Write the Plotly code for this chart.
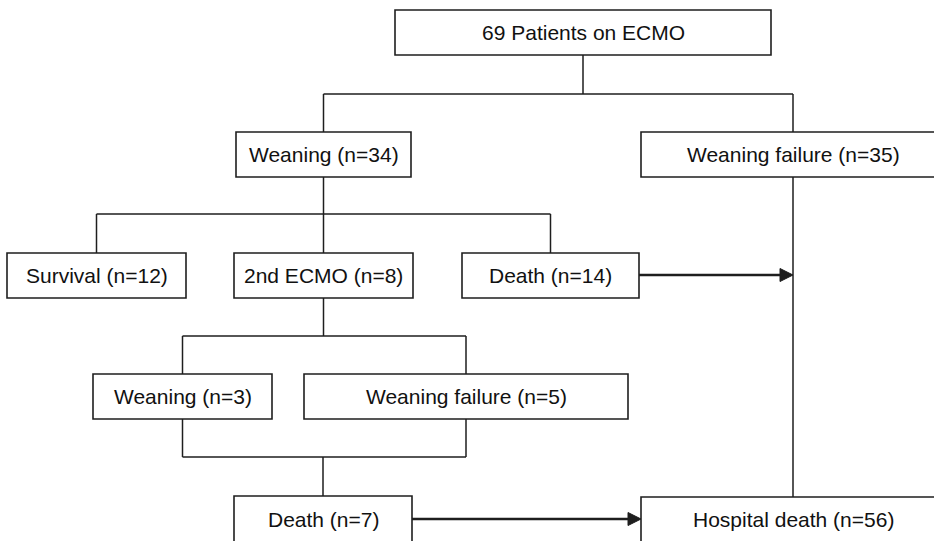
import plotly.graph_objects as go

# ---- diagram content ----
labels = [
    "69 Patients on ECMO",
    "Weaning (n=34)",
    "Weaning failure (n=35)",
    "Survival (n=12)",
    "2nd ECMO (n=8)",
    "Death (n=14)",
    "Weaning (n=3)",
    "Weaning failure (n=5)",
    "Death (n=7)",
    "Hospital death (n=56)",
]
keys = ["top", "wean", "wfail", "surv", "ecmo2", "death14", "wean3", "wfail5", "death7", "hosp"]

# box geometry (pixel space: x0, y0, x1, y1)
geom = {
    "top": (395, 10, 771, 55),
    "wean": (236, 132, 411, 177),
    "wfail": (641, 132, 945, 177),
    "surv": (7, 253, 186, 298),
    "ecmo2": (234, 253, 413, 298),
    "death14": (462, 253, 639, 298),
    "wean3": (93, 374, 272, 419),
    "wfail5": (304, 374, 628, 419),
    "death7": (234, 496, 412, 542),
    "hosp": (641, 497, 945, 542),
}

W, H = 934, 541
LC = "#1e1e1e"
fig = go.Figure()

def cx(k):
    g = geom[k]
    return (g[0] + g[2]) / 2

def cy(k):
    g = geom[k]
    return (g[1] + g[3]) / 2

shapes = []
def line(x0, y0, x1, y1, w=1.5):
    shapes.append(dict(type="line", x0=x0, y0=y0, x1=x1, y1=y1, xref="x", yref="y",
                       line=dict(color=LC, width=w)))

# boxes
for k, lab in zip(keys, labels):
    x0, y0, x1, y1 = geom[k]
    shapes.append(dict(type="rect", x0=x0, y0=y0, x1=x1, y1=y1, xref="x", yref="y",
                       line=dict(color=LC, width=1.6), fillcolor="white", layer="above"))

annotations = []
for k, lab in zip(keys, labels):
    x0, y0, x1, y1 = geom[k]
    annotations.append(dict(x=cx(k), y=(y0 + y1) / 2, text=lab, showarrow=False, xref="x", yref="y",
                            font=dict(family="Liberation Sans, Arial, sans-serif", size=21, color="#111")))

def branch(parent, children, ymid):
    line(cx(parent), geom[parent][3], cx(parent), ymid)
    xs = [cx(c) for c in children]
    line(min(xs), ymid, max(xs), ymid)
    for c in children:
        line(cx(c), ymid, cx(c), geom[c][1])

branch("top", ["wean", "wfail"], 94)
branch("wean", ["surv", "ecmo2", "death14"], 214)
branch("ecmo2", ["wean3", "wfail5"], 336)

# merge weaning(3) + failure(5) -> death(7)
ym = 457
line(cx("wean3"), geom["wean3"][3], cx("wean3"), ym)
line(cx("wfail5"), geom["wfail5"][3], cx("wfail5"), ym)
line(cx("wean3"), ym, cx("wfail5"), ym)
line(cx("death7"), ym, cx("death7"), geom["death7"][1])

# weaning failure(35) -> hospital death
line(cx("wfail"), geom["wfail"][3], cx("wfail"), geom["hosp"][1])

def arrow(x0, y, x1):
    hl, hw = 13, 6.5
    line(x0, y, x1 - hl + 1, y, w=2.5)
    shapes.append(dict(type="path", xref="x", yref="y",
                       path=f"M {x1-hl},{y-hw} L {x1},{y} L {x1-hl},{y+hw} Z",
                       fillcolor=LC, line=dict(color=LC, width=1)))

arrow(geom["death14"][2], cy("death14") - 0.5, cx("wfail"))
arrow(geom["death7"][2], 519, geom["hosp"][0])

fig.update_layout(
    width=W, height=H,
    margin=dict(l=0, r=0, t=0, b=0),
    paper_bgcolor="white", plot_bgcolor="white",
    xaxis=dict(range=[0, W], visible=False, fixedrange=True),
    yaxis=dict(range=[H, 0], visible=False, fixedrange=True),
    shapes=shapes, annotations=annotations, showlegend=False,
)
fig.write_html("out.html", config={"displayModeBar": False},
               post_script="document.body.style.margin='0';document.body.style.overflow='hidden';")
